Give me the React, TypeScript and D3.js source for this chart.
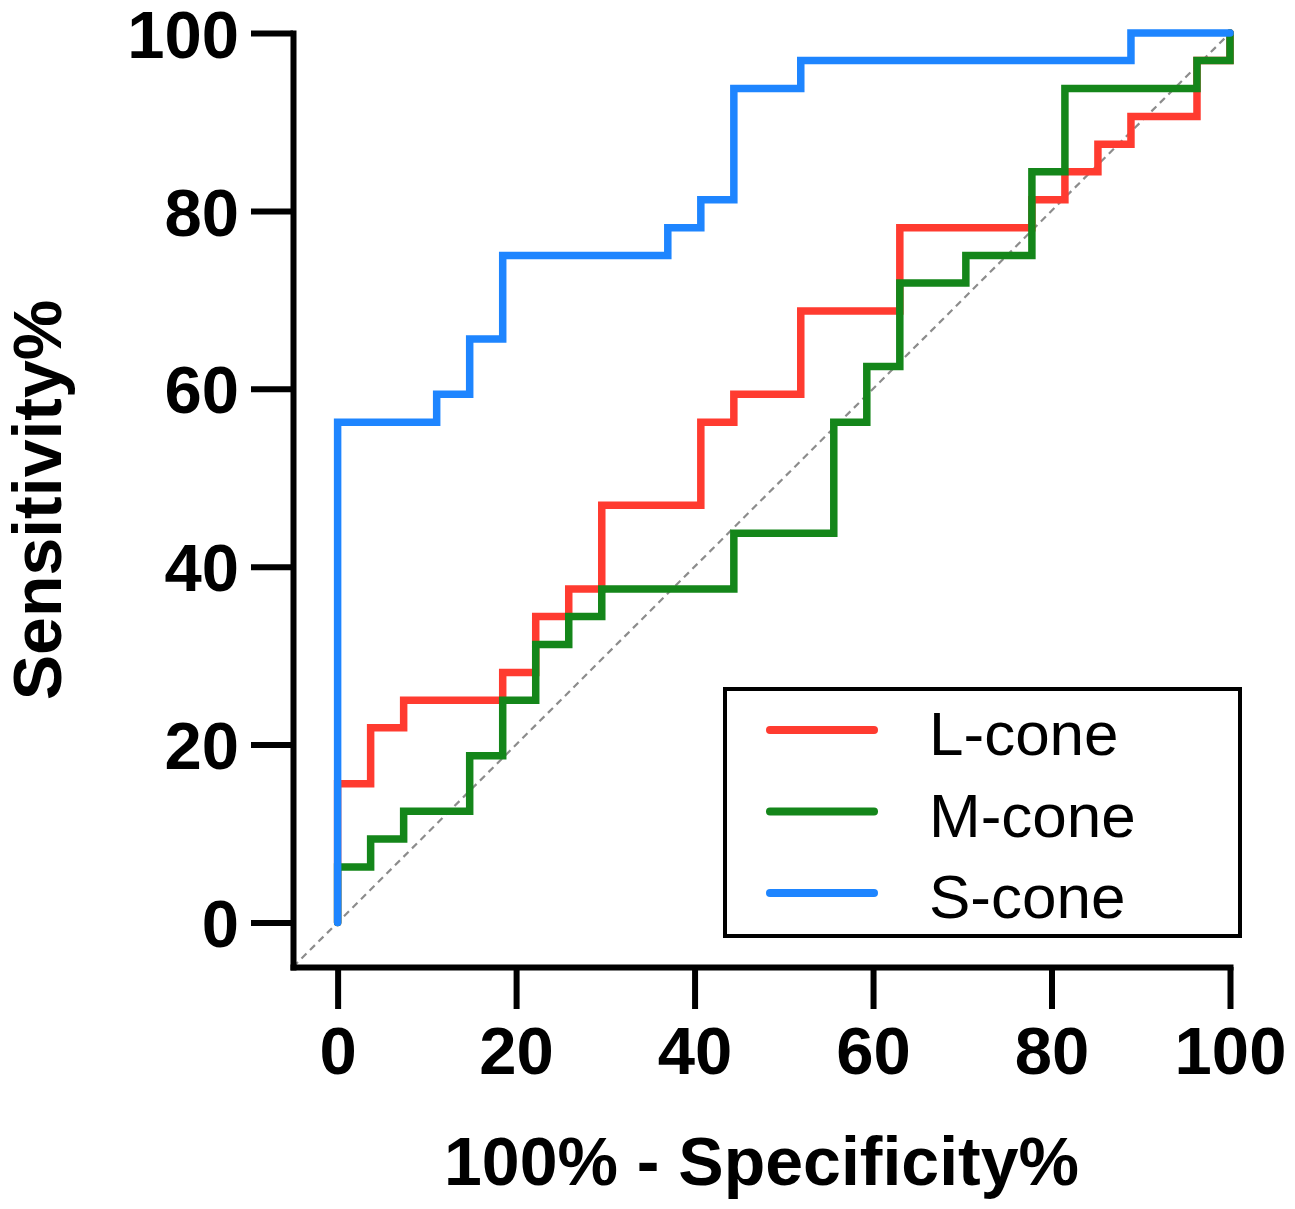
import React, { useEffect, useRef } from 'react';
import * as d3 from 'd3';

// ROC curves: each point is where the curve steps up (x = 100% - specificity, y = sensitivity)
const lConeX = [0, 0, 3.7, 7.4, 18.5, 22.2, 25.9, 29.6, 40.7, 44.4, 51.9, 63, 77.8, 81.5, 85.2, 88.9, 96.3, 100];
const lConeY = [0, 15.6, 21.9, 25, 28.1, 34.4, 37.5, 46.9, 56.25, 59.4, 68.75, 78.1, 81.25, 84.4, 87.5, 90.6, 96.9, 100];

const mConeX = [0, 0, 3.7, 7.4, 14.8, 18.5, 22.2, 25.9, 29.6, 44.4, 55.6, 59.3, 63, 70.4, 77.8, 81.5, 96.3, 100];
const mConeY = [0, 6.25, 9.4, 12.5, 18.75, 25, 31.25, 34.4, 37.5, 43.75, 56.25, 62.5, 71.9, 75, 84.4, 93.75, 96.9, 100];

const sConeX = [0, 0, 11.1, 14.8, 18.5, 37, 40.7, 44.4, 51.9, 88.9, 100];
const sConeY = [0, 56.25, 59.4, 65.6, 75, 78.1, 81.25, 93.75, 96.9, 100, 100];

const seriesNames = ['L-cone', 'M-cone', 'S-cone'];
const seriesColors = ['#ff3b30', '#14861a', '#1e85ff'];
const ticks = [0, 20, 40, 60, 80, 100];

const App: React.FC = () => {
  const ref = useRef<SVGSVGElement>(null);

  useEffect(() => {
    drawChart();
  }, []);

  const drawChart = () => {
    const width = 1295;
    const height = 1209;
    const font = '"Liberation Sans", Arial, Helvetica, sans-serif';

    const svg = d3.select(ref.current);
    svg.selectAll('*').remove();
    svg.attr('width', width).attr('height', height);

    const x = d3.scaleLinear().domain([-5, 100]).range([293, 1230]);
    const y = d3.scaleLinear().domain([-5, 100]).range([967, 33]);

    const series = [
      { name: seriesNames[0], color: seriesColors[0], pts: lConeX.map((v, i) => [v, lConeY[i]] as [number, number]) },
      { name: seriesNames[1], color: seriesColors[1], pts: mConeX.map((v, i) => [v, mConeY[i]] as [number, number]) },
      { name: seriesNames[2], color: seriesColors[2], pts: sConeX.map((v, i) => [v, sConeY[i]] as [number, number]) },
    ];

    // chance line
    svg.append('line')
      .attr('x1', x(-5)).attr('y1', y(-5))
      .attr('x2', x(100)).attr('y2', y(100))
      .attr('stroke', '#8c8c8c')
      .attr('stroke-width', 2.2)
      .attr('stroke-dasharray', '7,5');

    const line = d3.line<[number, number]>()
      .x(d => x(d[0]))
      .y(d => y(d[1]))
      .curve(d3.curveStepAfter);

    svg.selectAll('.roc')
      .data(series)
      .enter().append('path')
      .attr('class', 'roc')
      .attr('d', d => line(d.pts) as string)
      .attr('fill', 'none')
      .attr('stroke', d => d.color)
      .attr('stroke-width', 7.5)
      .attr('stroke-linecap', 'round')
      .attr('stroke-linejoin', 'miter');

    // axes
    const yAxis = svg.append('g')
      .attr('transform', `translate(${x(-5)},0)`)
      .call(d3.axisLeft(y).tickValues(ticks).tickSize(42).tickPadding(12).tickSizeOuter(0));
    const xAxis = svg.append('g')
      .attr('transform', `translate(0,${y(-5)})`)
      .call(d3.axisBottom(x).tickValues(ticks).tickSize(42).tickPadding(14).tickSizeOuter(0));

    [xAxis, yAxis].forEach(g => {
      g.select('.domain').attr('stroke', '#000').attr('stroke-width', 6).attr('stroke-linecap', 'square');
      g.selectAll('.tick line').attr('stroke', '#000').attr('stroke-width', 6);
      g.selectAll('.tick text')
        .attr('fill', '#000')
        .style('font-family', font)
        .style('font-weight', 'bold')
        .style('font-size', '67px');
    });
    yAxis.selectAll('.tick text').attr('dy', '0.36em');
    xAxis.selectAll('.tick text').attr('dy', '0.76em');

    // axis titles
    svg.append('text')
      .attr('x', (x(-5) + x(100)) / 2)
      .attr('y', 1185)
      .attr('text-anchor', 'middle')
      .style('font-family', font)
      .style('font-weight', 'bold')
      .style('font-size', '68px')
      .text('100% - Specificity%');

    svg.append('text')
      .attr('transform', `translate(61,${(y(-5) + y(100)) / 2}) rotate(-90)`)
      .attr('text-anchor', 'middle')
      .style('font-family', font)
      .style('font-weight', 'bold')
      .style('font-size', '68px')
      .text('Sensitivity%');

    // legend
    const legend = svg.append('g');
    legend.append('rect')
      .attr('x', 725).attr('y', 689)
      .attr('width', 515).attr('height', 247)
      .attr('fill', 'none')
      .attr('stroke', '#000')
      .attr('stroke-width', 4);

    const items = legend.selectAll('.item')
      .data(series)
      .enter().append('g')
      .attr('class', 'item')
      .attr('transform', (d, i) => `translate(0,${730 + i * 81.5})`);

    items.append('line')
      .attr('x1', 770).attr('x2', 874)
      .attr('y1', 0).attr('y2', 0)
      .attr('stroke', d => d.color)
      .attr('stroke-width', 8)
      .attr('stroke-linecap', 'round');

    items.append('text')
      .attr('x', 929)
      .attr('y', 25)
      .style('font-family', font)
      .style('font-size', '62px')
      .text(d => d.name);
  };

  return (
    <svg ref={ref} style={{ position: 'absolute', left: 0, top: 0, display: 'block', background: '#fff' }}></svg>
  );
};

export default App;
